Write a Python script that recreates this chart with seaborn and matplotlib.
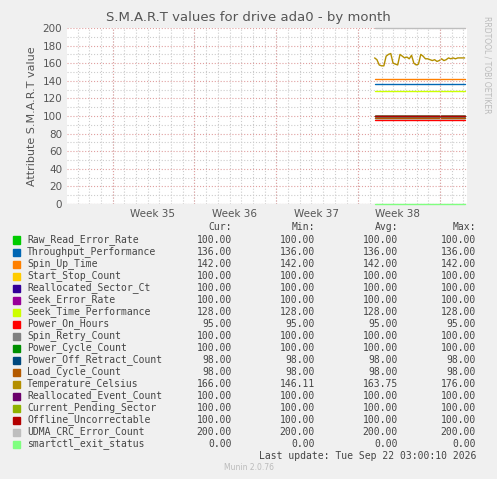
import matplotlib
matplotlib.use("Agg")
import matplotlib.pyplot as plt
import seaborn as sns
import numpy as np
import pandas as pd

names = ["Raw_Read_Error_Rate","Throughput_Performance","Spin_Up_Time","Start_Stop_Count",
         "Reallocated_Sector_Ct","Seek_Error_Rate","Seek_Time_Performance","Power_On_Hours",
         "Spin_Retry_Count","Power_Cycle_Count","Power_Off_Retract_Count","Load_Cycle_Count",
         "Temperature_Celsius","Reallocated_Event_Count","Current_Pending_Sector",
         "Offline_Uncorrectable","UDMA_CRC_Error_Count","smartctl_exit_status"]
colors = ["#00CC00","#0066B3","#FF8000","#FFCC00","#330099","#990099","#CCFF00","#FF0000",
          "#808080","#008F00","#00487D","#B35A00","#B38F00","#6B006B","#8FB300","#B30000",
          "#BEBEBE","#80FF80"]
cur = [100,136,142,100,100,100,128,95,100,100,98,98,166,100,100,100,200,0]
mins = [100,136,142,100,100,100,128,95,100,100,98,98,146.11,100,100,100,200,0]
avgs = [100,136,142,100,100,100,128,95,100,100,98,98,163.75,100,100,100,200,0]
maxs = [100,136,142,100,100,100,128,95,100,100,98,98,176,100,100,100,200,0]
week_labels = ["Week 35", "Week 36", "Week 37", "Week 38"]

t_start, t_end = 26.3, 34.0
temp = [166,164,158,157,157,168,170,171,160,159,158,170,168,166,167,165,169,160,158,159,
        170,168,165,165,164,163,164,162,163,165,163,164,166,165,166,165,166,166,166,166]
temp_t = list(np.linspace(t_start, t_end, len(temp)))

rows = []
for n, c in zip(names, cur):
    if n == "Temperature_Celsius":
        for tt, v in zip(temp_t, temp):
            rows.append((n, tt, v))
    else:
        rows.append((n, t_start, c)); rows.append((n, t_end, c))
df = pd.DataFrame(rows, columns=["name", "t", "v"])

sns.set_style("white")
plt.rcParams['font.family'] = ['DejaVu Sans']
fig = plt.figure(figsize=(4.97, 4.79), dpi=100, facecolor="#F0F0F0")
ax = fig.add_axes([67/497, 1-204/479, 400/497, 176/479])
ax.set_facecolor("white")
sns.lineplot(data=df, x="t", y="v", hue="name", palette=dict(zip(names, colors)),
             hue_order=names, legend=False, ax=ax, linewidth=1.0, estimator=None)
for l in ax.lines:
    l.set_clip_on(False)
ax.set_xlim(0, 34.2)
ax.set_ylim(0, 200)
ax.set_xlabel("")
ax.set_yticks(range(0, 201, 20))
ax.set_yticks(range(10, 201, 20), minor=True)
bounds = [3.9, 10.9, 17.9, 24.9, 31.9]
ax.set_xticks([b + 3.4 for b in bounds[:4]])
ax.set_xticklabels(week_labels)
ax.set_xticks([d + 0.9 for d in range(34)], minor=True)
ax.grid(True, which="minor", color="#CCCCCC", linestyle=":", linewidth=0.8)
ax.grid(True, which="major", axis="y", color="#E0A0A0", linestyle=":", linewidth=0.8)
ax.grid(False, which="major", axis="x")
for w in bounds:
    ax.axvline(w, color="#E0A0A0", linestyle=":", linewidth=0.8)
ax.tick_params(labelsize=7.5, colors="#555555", length=0, which="both")
for s in ax.spines.values():
    s.set_visible(False)
ax.axhline(0, color="#AAAAAA", lw=0.8)
ax.set_ylabel("Attribute S.M.A.R.T value", fontsize=8, color="#555555")
fig.text(0.5, 1-18/479, "S.M.A.R.T values for drive ada0 - by month", ha="center",
         va="center", fontsize=9.5, color="#555555")
fig.text(487/497, 1-65/479, "RRDTOOL / TOBI OETIKER", rotation=270, ha="center",
         va="center", fontsize=5.5, color="#BBBBBB")

mono = "DejaVu Sans Mono"
fs = 7
def fy(y): return 1 - y/479
for xh, lab in [(232, "Cur:"), (315, "Min:"), (398, "Avg:"), (476, "Max:")]:
    fig.text(xh/497, fy(227), lab, ha="right", va="center", fontsize=fs, family=mono, color="#444444")
for i, n in enumerate(names):
    y = 240 + i*12.0
    fig.patches.append(plt.Rectangle((13/497, fy(y) - 3.5/479), 7/497, 7/479,
                       transform=fig.transFigure, color=colors[i], figure=fig))
    fig.text(27/497, fy(y), n, ha="left", va="center", fontsize=fs, family=mono, color="#444444")
    for xh, vals in [(232, cur), (315, mins), (398, avgs), (476, maxs)]:
        fig.text(xh/497, fy(y), f"{vals[i]:.2f}", ha="right", va="center", fontsize=fs,
                 family=mono, color="#444444")
fig.text(476/497, fy(456), "Last update: Tue Sep 22 03:00:10 2026", ha="right", va="center",
         fontsize=fs, family=mono, color="#444444")
fig.text(249/497, fy(467), "Munin 2.0.76", ha="center", va="center", fontsize=5.5, color="#BBBBBB")
fig.savefig("out.png", dpi=100, facecolor=fig.get_facecolor())
